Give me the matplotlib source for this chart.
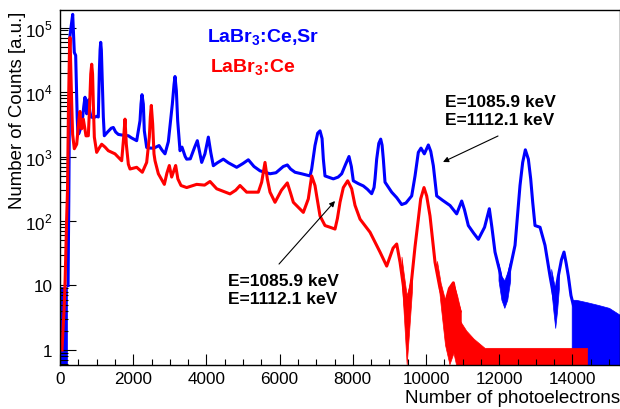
import matplotlib
matplotlib.use("Agg")
import matplotlib.pyplot as plt
from matplotlib.ticker import FixedLocator, MultipleLocator, LogLocator, NullFormatter

plt.rcParams["font.family"] = ["Liberation Sans", "DejaVu Sans"]
plt.rcParams["mathtext.fontset"] = "custom"
plt.rcParams["mathtext.rm"] = "Liberation Sans"
plt.rcParams["mathtext.bf"] = "Liberation Sans:bold"

# LaBr3:Ce,Sr spectrum: number of photoelectrons vs counts
sr_pe = [220, 240, 255, 268, 300, 347, 375, 391, 428, 450, 470, 490, 520, 574,
         600, 650, 683, 710, 729, 755, 784, 815, 847, 920, 1000, 1047, 1075,
         1095, 1112, 1130, 1148, 1184, 1211, 1300, 1400, 1457, 1520, 1594,
         1700, 1867, 1950, 2095, 2186, 2213, 2240, 2277, 2304, 2368, 2480,
         2570, 2705, 2790, 2869, 2960, 3069, 3115, 3142, 3179, 3215, 3279,
         3333, 3420, 3461, 3560, 3680, 3752, 3810, 3871, 3960, 4053, 4120,
         4189, 4300, 4462, 4600, 4827, 5000, 5145, 5300, 5464, 5738, 5900,
         6100, 6211, 6300, 6421, 6600, 6831, 6876, 6967, 7040, 7104, 7160,
         7195, 7240, 7468, 7600, 7696, 7800, 7896, 7960, 8014, 8150, 8287,
         8400, 8515, 8580, 8607, 8652, 8710, 8762, 8800, 8834, 8880, 9062,
         9200, 9335, 9450, 9609, 9700, 9790, 9863, 9954, 10064, 10130, 10200,
         10292, 10450, 10656, 10838, 10975, 11050, 11156, 11300, 11430, 11600,
         11730, 11800, 11885, 12022, 12140, 12295, 12432, 12500, 12568, 12641,
         12714, 12796, 12860, 12915, 12978, 13115, 13251, 13388, 13506, 13615,
         13700, 13770, 13830, 13888, 13960, 14025]
sr_counts = [10, 200, 3000, 70000, 100000, 160000, 70000, 41000, 37000, 12000,
             4000, 2200, 2300, 2900, 3200, 6000, 8300, 5500, 4600, 6500, 7600,
             5000, 4100, 4000, 4200, 4100, 21000, 45000, 59000, 45000, 21000,
             4100, 2100, 2400, 2750, 2820, 2400, 2200, 2150, 2100, 1950, 1760,
             3590, 6500, 9100, 6500, 2500, 1380, 1350, 1350, 1480, 1250, 1100,
             1700, 6500, 13000, 17400, 10500, 3590, 1230, 1400, 1000, 910, 920,
             1400, 1760, 1200, 810, 1100, 2000, 1150, 720, 800, 910, 800, 680,
             780, 890, 700, 600, 540, 560, 700, 740, 640, 570, 540, 500, 640,
             1480, 2300, 2500, 1900, 910, 500, 450, 480, 540, 750, 1000, 700,
             420, 380, 350, 310, 265, 330, 450, 910, 1600, 1860, 1500, 910, 400,
             280, 230, 180, 190, 245, 500, 1160, 1350, 1100, 1510, 1200, 720,
             245, 210, 174, 129, 204, 150, 85, 65, 52, 80, 155, 80, 33, 16, 7,
             18, 42, 120, 355, 810, 1270, 910, 450, 195, 85, 80, 42, 14, 6, 14,
             25, 33, 22, 14, 7, 5]

# LaBr3:Ce spectrum
ce_pe = [55, 80, 110, 140, 180, 205, 230, 260, 273, 290, 320, 345, 391, 456,
         519, 546, 574, 593, 637, 680, 710, 774, 811, 840, 866, 890, 911, 938,
         1002, 1070, 1139, 1230, 1320, 1503, 1685, 1740, 1776, 1812, 1867,
         1913, 2095, 2249, 2368, 2441, 2468, 2495, 2532, 2568, 2596, 2687,
         2851, 2920, 2987, 3051, 3110, 3160, 3220, 3306, 3461, 3734, 3950,
         4098, 4281, 4645, 4800, 4918, 5100, 5418, 5510, 5601, 5665, 5738,
         5874, 6050, 6211, 6300, 6375, 6648, 6784, 6876, 6967, 7013, 7104,
         7240, 7377, 7514, 7580, 7650, 7741, 7860, 7969, 8060, 8197, 8470,
         8743, 8926, 9100, 9199, 9290, 9380, 9472, 9609, 9700, 9790, 9854,
         9945, 10018, 10109, 10246, 10383, 10519, 10640, 10747, 10830, 10929]
ce_counts = [1, 2, 4, 12, 100, 300, 5000, 50000, 70000, 30000, 6500, 2200,
             1320, 1550, 3800, 5000, 2800, 2700, 3800, 2700, 2090, 2100, 6500,
             19000, 27000, 19000, 6500, 2000, 1160, 1350, 1550, 1400, 1230,
             1100, 860, 2000, 3800, 1550, 760, 640, 680, 570, 810, 2000, 4100,
             6200, 3200, 1100, 860, 540, 370, 550, 725, 480, 600, 725, 450, 355,
             330, 370, 360, 410, 316, 263, 300, 355, 280, 280, 400, 810, 447,
             280, 195, 300, 390, 270, 195, 136, 220, 500, 355, 245, 120, 85, 80,
             75, 110, 195, 330, 420, 316, 175, 107, 67, 33, 20, 38, 44, 23, 10,
             3, 12.6, 40, 107, 220, 330, 245, 120, 23, 9, 5, 9, 11, 6, 4]

# fluctuating low-statistics regions: (pe, lower, upper)
sr_noise_pe = [[11980, 12060, 12140, 12220, 12300],
               [13420, 13480, 13530, 13580, 13630]]
sr_noise_lo = [[12, 6, 4.5, 6, 12], [9, 4, 2.2, 4, 9]]
sr_noise_hi = [[22, 14, 12, 16, 24], [18, 12, 9, 12, 18]]
sr_tail_pe = [13980, 14100, 14400, 14700, 15000, 15300]
sr_tail_top = [6, 6, 5.5, 5, 4.5, 3.5]
sr_low_pe = [0, 200]
sr_low_top = [9.5, 9.5]

ce_noise_pe = [[9330, 9400, 9472, 9540, 9620],
               [10300, 10400, 10520, 10640, 10750, 10850, 10950]]
ce_noise_lo = [[14, 3, 0.6, 2, 9], [18, 5, 1.2, 0.6, 0.9, 0.5, 0.5]]
ce_noise_hi = [[28, 14, 7, 10, 16], [24, 11, 6, 9, 11, 7, 4]]
ce_tail_pe = [10900, 11100, 11300, 11600, 14400]
ce_tail_top = [3, 2, 1.5, 1.08, 1.08]

x_major = [0, 2000, 4000, 6000, 8000, 10000, 12000, 14000]
y_major = [1, 10, 100, 1e3, 1e4, 1e5]
y_labels = ["1", "10", "$10^{2}$", "$10^{3}$", "$10^{4}$", "$10^{5}$"]

BLUE = "#0000ff"
RED = "#ff0000"
YMIN, YMAX = 0.585, 1.87e5

fig = plt.figure(figsize=(6.2, 4.1), dpi=100)
ax = fig.add_axes([60 / 620, 44 / 410, 560 / 620, 355 / 410])
ax.set_yscale("log")

# blue spectrum
ax.fill_between(sr_low_pe, 0.3, sr_low_top, color=BLUE, lw=0.5)
ax.plot(sr_pe, sr_counts, color=BLUE, lw=2.2)
for xs, lo, hi in zip(sr_noise_pe, sr_noise_lo, sr_noise_hi):
    ax.fill_between(xs, lo, hi, color=BLUE, lw=0.5)
ax.fill_between(sr_tail_pe, 0.3, sr_tail_top, color=BLUE, lw=0.5)

# red spectrum
ax.plot(ce_pe, ce_counts, color=RED, lw=2.2)
for xs, lo, hi in zip(ce_noise_pe, ce_noise_lo, ce_noise_hi):
    ax.fill_between(xs, lo, hi, color=RED, lw=0.5)
ax.fill_between(ce_tail_pe, 0.3, ce_tail_top, color=RED, lw=0.5)

ax.set_xlim(0, 15300)
ax.set_ylim(YMIN, YMAX)

ax.xaxis.set_major_locator(FixedLocator(x_major))
ax.xaxis.set_minor_locator(MultipleLocator(500))
ax.yaxis.set_major_locator(FixedLocator(y_major))
ax.set_yticklabels(y_labels)
ax.yaxis.set_minor_locator(LogLocator(base=10, subs=range(2, 10)))
ax.yaxis.set_minor_formatter(NullFormatter())

ax.tick_params(axis="both", which="both", direction="in", labelsize=12.3,
               top=False, right=False, width=0.8)
ax.tick_params(axis="x", which="major", length=8, pad=4.5)
ax.tick_params(axis="x", which="minor", length=4.5)
ax.tick_params(axis="y", which="major", length=11.5, pad=5.5)
ax.tick_params(axis="y", which="minor", length=6)
for sp in ax.spines.values():
    sp.set_linewidth(1.0)

# legend-like labels
ax.text(4016, 5.96e4, r"LaBr$_\mathbf{3}$:Ce,Sr", color=BLUE, fontsize=14,
        fontweight="bold", ha="left", va="baseline")
ax.text(4098, 2.04e4, r"LaBr$_\mathbf{3}$:Ce", color=RED, fontsize=14,
        fontweight="bold", ha="left", va="baseline")

# peak annotations
arrow = dict(arrowstyle="-|>", color="black", lw=0.8, mutation_scale=8,
             shrinkA=0, shrinkB=0)
ax.annotate("", xy=(10464, 822), xytext=(11967, 2080), arrowprops=arrow)
ax.text(10519, 6070, "E=1085.9 keV", fontsize=12.5, fontweight="bold",
        ha="left", va="baseline")
ax.text(10519, 3190, "E=1112.1 keV", fontsize=12.5, fontweight="bold",
        ha="left", va="baseline")
ax.annotate("", xy=(7514, 204), xytext=(5984, 21.5), arrowprops=arrow)
ax.text(4590, 10.2, "E=1085.9 keV", fontsize=12.5, fontweight="bold",
        ha="left", va="baseline")
ax.text(4590, 5.35, "E=1112.1 keV", fontsize=12.5, fontweight="bold",
        ha="left", va="baseline")

fig.text(18 / 620, 1 - 12 / 410, "Number of Counts [a.u.]", rotation=90,
         ha="center", va="top", fontsize=13.4)
fig.text(1.0, 1 - 403 / 410, "Number of photoelectrons", ha="right",
         va="baseline", fontsize=13.5)

fig.savefig("out.png", dpi=100)
